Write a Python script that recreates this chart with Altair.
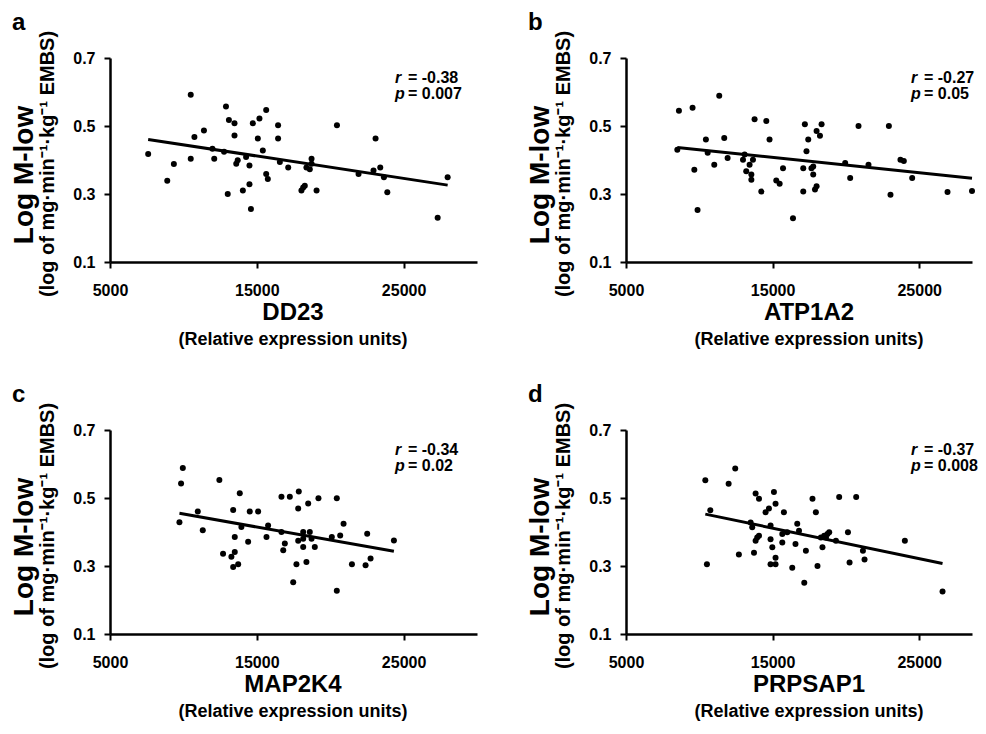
import altair as alt
import pandas as pd

FONT = "Liberation Sans, Arial, sans-serif"

# ---------------- data ----------------
letters = ["a", "b", "c", "d"]
genes = ["DD23", "ATP1A2", "MAP2K4", "PRPSAP1"]
r_values = ["= -0.38", "= -0.27", "= -0.34", "= -0.37"]
p_values = ["= 0.007", "= 0.05", "= 0.02", "= 0.008"]
x_ticks = [5000, 15000, 25000]
y_ticks = [0.1, 0.3, 0.5, 0.7]
y_title = "Log M-low"
y_subtitle = "(log of mg·min⁻¹·kg⁻¹ EMBS)"
x_subtitle = "(Relative expression units)"

dd23_x = [7600, 10500, 8900, 9350, 10500, 10750, 11400, 11980, 12100, 12770,
          12900, 13100, 13480, 13480, 13020, 13600, 13700, 14050, 14270, 14500,
          14500, 14600, 14730, 15070, 15180, 15410, 15640, 15640, 15750, 16450,
          16450, 16570, 17140, 18040, 18160, 18270, 18380, 18610, 18730, 18730,
          19070, 20460, 21930, 22950, 23090, 23410, 23660, 23890, 27320, 28000]
dd23_y = [0.418, 0.592, 0.339, 0.388, 0.404, 0.468, 0.487, 0.433, 0.404, 0.424,
          0.557, 0.518, 0.508, 0.472, 0.300, 0.389, 0.399, 0.310, 0.409, 0.384,
          0.329, 0.256, 0.508, 0.463, 0.522, 0.428, 0.547, 0.359, 0.344, 0.502,
          0.463, 0.394, 0.378, 0.310, 0.319, 0.324, 0.378, 0.373, 0.404, 0.389,
          0.310, 0.502, 0.359, 0.369, 0.463, 0.378, 0.349, 0.305, 0.230, 0.349]

atp1a2_x = [8500, 8610, 9540, 9660, 9880, 10450, 10570, 11020, 11360, 11700,
            11930, 12980, 13090, 13200, 13430, 13550, 13550, 13660, 13770, 14230,
            14570, 14790, 15250, 15480, 15710, 16390, 17090, 17090, 17200, 17310,
            17430, 17650, 17770, 17770, 17890, 18000, 18000, 18230, 18340, 19950,
            20290, 20860, 21540, 22930, 23040, 23720, 23950, 24520, 26930, 28600]
atp1a2_y = [0.430, 0.545, 0.554, 0.371, 0.253, 0.460, 0.421, 0.386, 0.589, 0.465,
            0.406, 0.401, 0.416, 0.367, 0.386, 0.357, 0.342, 0.401, 0.520, 0.307,
            0.515, 0.460, 0.340, 0.330, 0.376, 0.229, 0.376, 0.307, 0.505, 0.426,
            0.460, 0.376, 0.381, 0.357, 0.313, 0.323, 0.485, 0.471, 0.505, 0.391,
            0.347, 0.500, 0.386, 0.500, 0.298, 0.401, 0.397, 0.347, 0.306, 0.309]

map2k4_x = [9730, 9840, 9960, 10980, 11320, 12450, 12700, 13270, 13390, 13390,
            13500, 13500, 13730, 13840, 13950, 14410, 14520, 15090, 15660, 15770,
            16680, 16680, 16800, 16910, 17250, 17480, 17700, 17820, 17820, 17860,
            18160, 18160, 18160, 18380, 18500, 18610, 18730, 18950, 19200, 20110,
            20450, 20450, 20680, 20910, 21480, 22410, 22520, 22750, 24340]
map2k4_y = [0.429, 0.543, 0.588, 0.460, 0.405, 0.553, 0.336, 0.327, 0.465, 0.297,
            0.341, 0.385, 0.305, 0.514, 0.415, 0.371, 0.460, 0.460, 0.385, 0.419,
            0.400, 0.504, 0.346, 0.366, 0.504, 0.252, 0.305, 0.374, 0.469, 0.519,
            0.400, 0.380, 0.356, 0.312, 0.484, 0.400, 0.380, 0.356, 0.499, 0.385,
            0.499, 0.227, 0.390, 0.424, 0.305, 0.302, 0.395, 0.322, 0.375]

prpsap1_x = [10410, 10520, 10750, 12000, 12450, 12700, 13500, 13610, 13730, 13840,
             13840, 13950, 14070, 14070, 14520, 14750, 14860, 14860, 14860, 14980,
             15090, 15200, 15200, 15200, 15660, 15660, 15770, 16000, 16340, 16560,
             16680, 16800, 17160, 17270, 17720, 17950, 18060, 18290, 18400, 18520,
             18640, 18740, 18860, 19320, 19540, 20140, 20250, 20700, 21160, 21270,
             24020, 26590]
prpsap1_y = [0.552, 0.305, 0.464, 0.542, 0.587, 0.334, 0.428, 0.414, 0.339, 0.513,
             0.374, 0.384, 0.498, 0.389, 0.458, 0.469, 0.419, 0.379, 0.305, 0.355,
             0.518, 0.483, 0.324, 0.305, 0.369, 0.394, 0.458, 0.399, 0.295, 0.365,
             0.424, 0.404, 0.251, 0.345, 0.498, 0.458, 0.300, 0.384, 0.355, 0.389,
             0.384, 0.394, 0.399, 0.374, 0.503, 0.399, 0.310, 0.503, 0.345, 0.319,
             0.374, 0.225]

series_x = [dd23_x, atp1a2_x, map2k4_x, prpsap1_x]
series_y = [dd23_y, atp1a2_y, map2k4_y, prpsap1_y]
x_max = [30000, 28600, 30000, 28600]

PX_PER_UNIT = 367 / 25000.0
H = 204


def text_layer(txt, x, y, size, style="normal", align="left", angle=0):
    kw = dict(font=FONT, fontSize=size, fontWeight="bold", fontStyle=style,
              color="black", align=align, baseline="alphabetic")
    if angle:
        kw["angle"] = angle
    return alt.Chart(pd.DataFrame({"t": [txt]})).mark_text(**kw).encode(
        x=alt.value(x), y=alt.value(y), text="t:N")


def panel(i):
    W = round((x_max[i] - 5000) * PX_PER_UNIT)
    df = pd.DataFrame({"x": series_x[i], "y": series_y[i]})
    xenc = alt.X("x:Q",
                 scale=alt.Scale(domain=[5000, x_max[i]], nice=False, zero=False),
                 axis=alt.Axis(values=x_ticks, format="d", title=None))
    yenc = alt.Y("y:Q",
                 scale=alt.Scale(domain=[0.1, 0.7], nice=False, zero=False),
                 axis=alt.Axis(values=y_ticks, format=".1f", title=None))
    base = alt.Chart(df)
    pts = base.mark_circle(size=36, color="black", opacity=1).encode(x=xenc, y=yenc)
    line = base.transform_regression("x", "y").mark_line(
        color="black", strokeWidth=3).encode(x=xenc, y=yenc)
    cx = 183
    layers = [
        pts, line,
        text_layer(letters[i], -98, -28, 24),
        text_layer(y_title, -77, 117, 28, align="center", angle=270),
        text_layer(y_subtitle, -56, 106, 20, align="center", angle=270),
        text_layer(genes[i], cx, H + 58, 24, align="center"),
        text_layer(x_subtitle, cx, H + 83, 18, align="center"),
        text_layer("r", 285, 25, 16, style="italic"),
        text_layer(r_values[i], 298, 25, 16),
        text_layer("p", 285, 41, 16, style="italic"),
        text_layer(p_values[i], 298, 41, 16),
    ]
    return alt.layer(*layers).properties(width=W, height=H)


row1 = alt.hconcat(panel(0), panel(1), spacing=50)
row2 = alt.hconcat(panel(2), panel(3), spacing=50)

chart = alt.vconcat(row1, row2, spacing=34).properties(
    padding={"left": 3, "top": 3, "right": 0, "bottom": 0}
).configure_view(stroke=None).configure_axis(
    grid=False, domainColor="black", domainWidth=2.5, tickColor="black",
    tickWidth=2, tickSize=6, labelFont=FONT, labelFontSize=16,
    labelFontWeight="bold", labelColor="black", labelFlush=False
).configure_axisX(labelPadding=14).configure_axisY(labelPadding=9)

chart.save("out.html", embed_options={"renderer": "svg", "actions": False})
